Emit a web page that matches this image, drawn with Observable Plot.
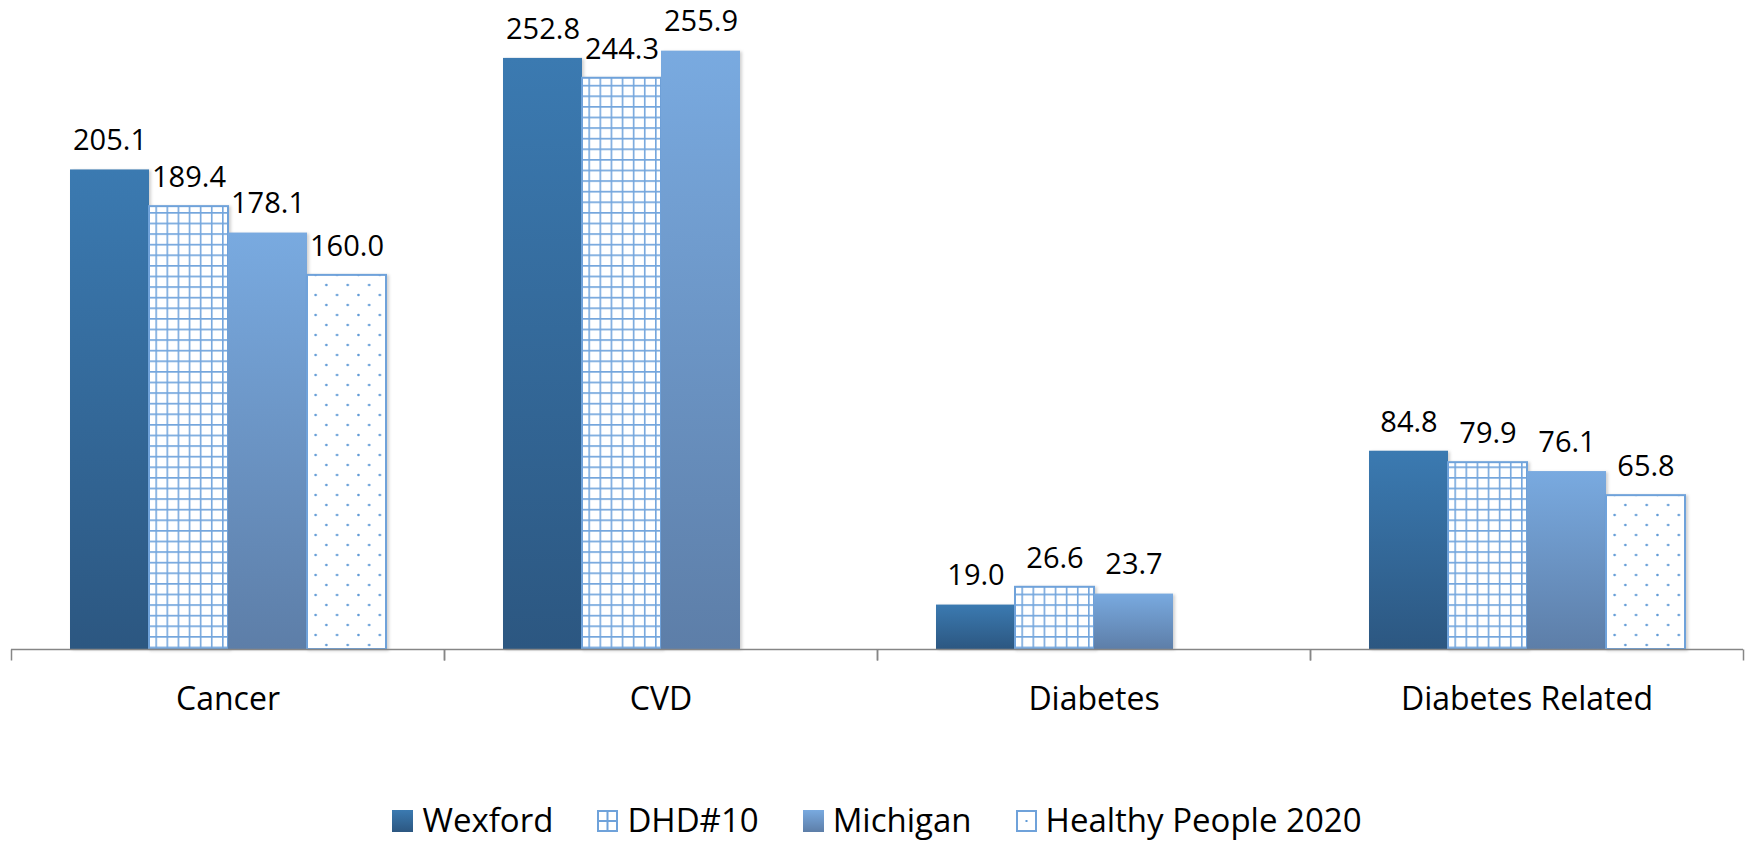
<!DOCTYPE html>
<html><head><meta charset="utf-8">
<script src="https://cdn.jsdelivr.net/npm/d3@7"></script>
<script src="https://cdn.jsdelivr.net/npm/@observablehq/plot@0.6"></script>
<style>
html,body{margin:0;padding:0;background:#fff;}
body{width:1754px;height:843px;overflow:hidden;font-family:"Open Sans",sans-serif;}
#chart svg{display:block;}
#legend{display:flex;justify-content:center;align-items:baseline;padding-top:15px;line-height:30px;font-size:33px;color:#000;height:38px;white-space:nowrap;}
.item{display:inline-flex;align-items:baseline;margin:0 22px;}
.item svg{margin-right:9px;display:inline-block;vertical-align:baseline;}
g[aria-label="bar"] rect{filter:drop-shadow(2px 1px 1.5px rgba(0,0,0,0.18));}
</style></head><body>
<div id="chart"></div>
<div id="legend"></div>
<script>
// ---- data ----
const categories = ["Cancer", "CVD", "Diabetes", "Diabetes Related"];
const series = ["Wexford", "DHD#10", "Michigan", "Healthy People 2020"];
const wexford = [205.1, 252.8, 19.0, 84.8];
const dhd10 = [189.4, 244.3, 26.6, 79.9];
const michigan = [178.1, 255.9, 23.7, 76.1];
const healthyPeople2020 = [160.0, null, null, 65.8];

const seriesValues = [wexford, dhd10, michigan, healthyPeople2020];
const rows = [];
categories.forEach((c, i) => series.forEach((s, j) => {
  const v = seriesValues[j][i];
  if (v != null) rows.push({category: c, series: s, value: v});
}));

// ---- styles ----
const lineBlue = "#6fa2da";
const seriesStyle = {
  "Wexford": {fill: "url(#gWex)", stroke: "none"},
  "DHD#10": {fill: "url(#pGrid)", stroke: lineBlue, strokeWidth: 2},
  "Michigan": {fill: "url(#gMich)", stroke: "none"},
  "Healthy People 2020": {fill: "url(#pDots)", stroke: lineBlue, strokeWidth: 2}
};

const tickSymbol = {draw(ctx) { ctx.moveTo(0, 0); ctx.lineTo(0, 11); }};

const chart = Plot.plot({
  width: 1754,
  height: 790,
  marginLeft: 11,
  marginRight: 11,
  marginTop: 6,
  marginBottom: 141,
  style: {fontFamily: '"Open Sans", sans-serif', background: "white", color: "black"},
  facet: {data: rows, x: "category"},
  fx: {domain: categories, padding: 0, axis: null},
  x: {domain: series, paddingInner: 0, paddingOuter: 0.74, axis: null},
  y: {domain: [0, 275], axis: null},
  marks: [
    ...series.map(s => Plot.barY(rows, {
      filter: d => d.series === s,
      x: "series", y: "value",
      ...seriesStyle[s]
    })),
    Plot.ruleY([0], {stroke: "#868686", strokeWidth: 1.5}),
    Plot.dot([0], {x: null, y: null, frameAnchor: "bottom-left", symbol: tickSymbol, stroke: "#868686", strokeWidth: 1.5, fill: "none"}),
    Plot.dot([0], {x: null, y: null, frameAnchor: "bottom-right", symbol: tickSymbol, stroke: "#868686", strokeWidth: 1.5, fill: "none"}),
    Plot.text(rows, {
      x: "series", y: "value",
      text: d => d.value.toFixed(1),
      dy: -29, fontSize: 29, fill: "black"
    }),
    Plot.text(rows, Plot.selectFirst({
      x: null, y: null, text: "category",
      frameAnchor: "bottom", dy: 60, fontSize: 32, fill: "black"
    }))
  ]
});

// gradients & patterns
const defs = d3.select(chart).insert("defs", ":first-child");
function grad(id, top, bottom) {
  const g = defs.append("linearGradient").attr("id", id)
    .attr("x1", 0).attr("y1", 0).attr("x2", 0).attr("y2", 1);
  g.append("stop").attr("offset", "0%").attr("stop-color", top);
  g.append("stop").attr("offset", "100%").attr("stop-color", bottom);
}
grad("gWex", "#3b7ab1", "#2c5781");
grad("gMich", "#79aae0", "#5d7ea8");
const pg = defs.append("pattern").attr("id", "pGrid").attr("patternUnits", "userSpaceOnUse")
  .attr("width", 11.1).attr("height", 10.6);
pg.append("rect").attr("width", 11.1).attr("height", 10.6).attr("fill", "white");
pg.append("path").attr("d", "M0 0H11.1M0 0V10.6").attr("stroke", "#74a6dd").attr("stroke-width", 3.2);
const pd = defs.append("pattern").attr("id", "pDots").attr("patternUnits", "userSpaceOnUse")
  .attr("width", 21.4).attr("height", 20);
pd.append("rect").attr("width", 21.4).attr("height", 20).attr("fill", "white");
pd.append("circle").attr("cx", 5.35).attr("cy", 5).attr("r", 1.3).attr("fill", "#5f9ad6");
pd.append("circle").attr("cx", 16.05).attr("cy", 15).attr("r", 1.3).attr("fill", "#5f9ad6");

document.getElementById("chart").appendChild(chart);

// legend
const legend = d3.select("#legend");
series.forEach(s => {
  const item = legend.append("span").attr("class", "item");
  const sw = item.append("svg").attr("width", 21).attr("height", 22);
  if (s === "Wexford") sw.append("rect").attr("width", 21).attr("height", 22).attr("fill", "url(#gWex)");
  else if (s === "Michigan") sw.append("rect").attr("width", 21).attr("height", 22).attr("fill", "url(#gMich)");
  else {
    sw.append("rect").attr("x", 1).attr("y", 1).attr("width", 19).attr("height", 20)
      .attr("fill", "white").attr("stroke", lineBlue).attr("stroke-width", 2);
    if (s === "DHD#10") sw.append("path").attr("d", "M10.5 1V21M1 11H20").attr("stroke", lineBlue).attr("stroke-width", 2);
    else sw.append("rect").attr("x", 9.5).attr("y", 10).attr("width", 2).attr("height", 2).attr("fill", "#5f9ad6");
  }
  item.append("span").text(s);
});
</script>
</body></html>
